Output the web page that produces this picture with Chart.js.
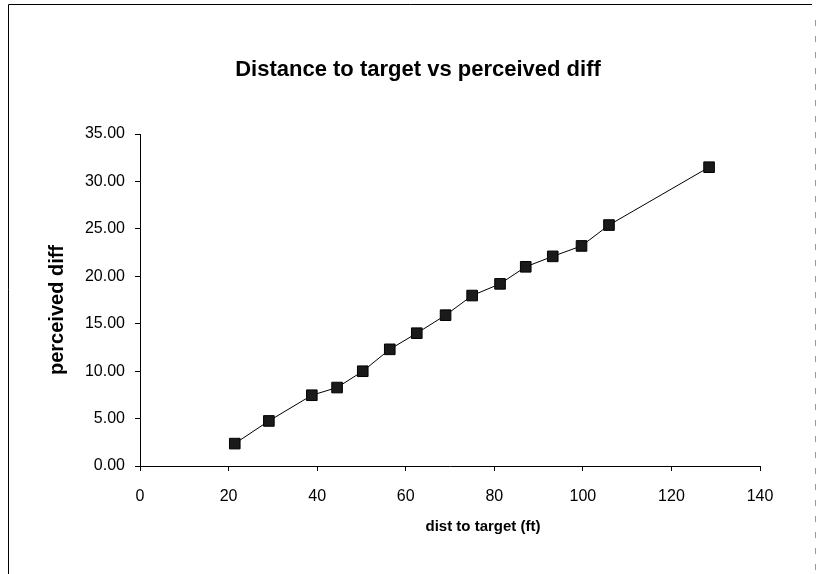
<!DOCTYPE html>
<html>
<head>
<meta charset="UTF-8">
<title>Distance to target vs perceived diff</title>
<script src="https://cdn.jsdelivr.net/npm/chart.js"></script>
<style>
  html, body { margin: 0; padding: 0; background: #fff; }
  canvas { display: block; }
</style>
</head>
<body>
<canvas id="chart" width="818" height="574"></canvas>
<script>
// distance to target (ft) and perceived difference
const distFt = [21.4, 29.1, 38.8, 44.5, 50.3, 56.4, 62.5, 69.0, 75.0, 81.3, 87.1, 93.2, 99.7, 105.9, 128.5];
const perceivedDiff = [2.36, 4.75, 7.46, 8.27, 9.99, 12.3, 14.0, 15.9, 17.97, 19.2, 21.0, 22.1, 23.2, 25.4, 31.5];

const chartTitle = 'Distance to target vs perceived diff';
const xTitle = 'dist to target (ft)';
const yTitle = 'perceived diff';

const FONT = '"Liberation Sans", Arial, sans-serif';

// white page, frame, and the three captions (placed like the Excel original)
const framePlugin = {
  id: 'frame',
  beforeDraw(chart) {
    const ctx = chart.ctx;
    ctx.save();
    ctx.fillStyle = '#fff';
    ctx.fillRect(0, 0, chart.width, chart.height);
    ctx.strokeStyle = '#000';
    ctx.lineWidth = 1;
    ctx.beginPath();
    ctx.moveTo(8.5, chart.height);
    ctx.lineTo(8.5, 4.5);
    ctx.lineTo(chart.width - 6, 4.5);
    ctx.stroke();
    ctx.strokeStyle = '#999';
    ctx.setLineDash([6, 10]);
    ctx.beginPath();
    ctx.moveTo(chart.width - 2.5, 20);
    ctx.lineTo(chart.width - 2.5, chart.height);
    ctx.stroke();
    ctx.restore();
  },
  afterDraw(chart) {
    const ctx = chart.ctx;
    ctx.save();
    ctx.fillStyle = '#000';
    ctx.textAlign = 'center';
    ctx.textBaseline = 'middle';
    ctx.font = 'bold 22px ' + FONT;
    ctx.fillText(chartTitle, 418, 70);
    ctx.font = 'bold 15px ' + FONT;
    ctx.fillText(xTitle, 483, 527);
    ctx.translate(57, 310);
    ctx.rotate(-Math.PI / 2);
    ctx.font = 'bold 20px ' + FONT;
    ctx.fillText(yTitle, 0, 0);
    ctx.restore();
  }
};

new Chart(document.getElementById('chart'), {
  type: 'scatter',
  data: {
    datasets: [{
      data: distFt.map((x, i) => ({ x: x, y: perceivedDiff[i] })),
      showLine: true,
      borderColor: '#000',
      borderWidth: 1,
      backgroundColor: '#1a1a1a',
      pointStyle: 'rect',
      pointRadius: 7.5,
      pointHoverRadius: 7.5,
      pointBorderColor: '#000',
      pointBorderWidth: 1
    }]
  },
  options: {
    responsive: false,
    animation: false,
    layout: { padding: { left: 0, right: 58, top: 134, bottom: 0 } },
    plugins: {
      legend: { display: false },
      tooltip: { enabled: false },
      title: { display: false }
    },
    scales: {
      x: {
        type: 'linear',
        min: 0,
        max: 140,
        afterFit(scale) { scale.height = 108; },
        ticks: { stepSize: 20, color: '#000', padding: 16, font: { family: FONT, size: 16 } },
        grid: { display: true, drawOnChartArea: false, drawTicks: true, tickLength: 5, color: '#000' },
        border: { color: '#000', width: 1 }
      },
      y: {
        min: 0,
        max: 35,
        afterFit(scale) { scale.width = 140; },
        ticks: {
          stepSize: 5,
          color: '#000',
          padding: 10,
          font: { family: FONT, size: 16 },
          callback: v => v.toFixed(2)
        },
        grid: { display: true, drawOnChartArea: false, drawTicks: true, tickLength: 5, color: '#000' },
        border: { color: '#000', width: 1 }
      }
    }
  },
  plugins: [framePlugin]
});
</script>
</body>
</html>
